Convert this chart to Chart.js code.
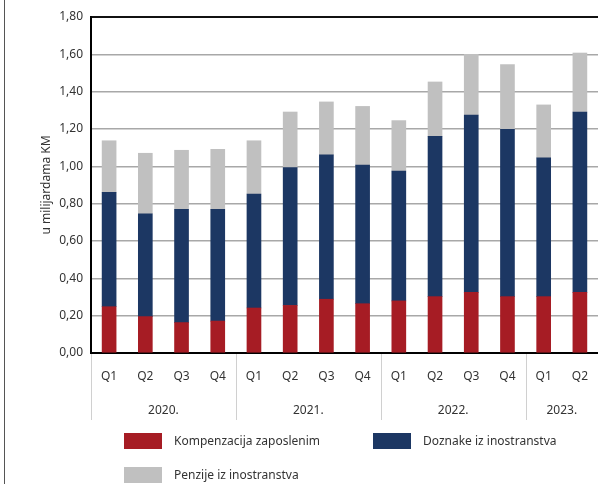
<!DOCTYPE html>
<html><head><meta charset="utf-8">
<script src="https://cdn.jsdelivr.net/npm/chart.js@4.4.1/dist/chart.umd.min.js"></script>
<style>
html,body{margin:0;padding:0;background:#fff;}
#wrap{position:relative;width:598px;height:484px;}
#frame{position:absolute;left:4px;top:0;width:1px;height:484px;background:#555;}
canvas{position:absolute;left:0;top:0;}
</style></head>
<body><div id="wrap"><div id="frame"></div><canvas id="c" width="598" height="484"></canvas></div>
<script>
const quarters = ['Q1','Q2','Q3','Q4','Q1','Q2','Q3','Q4','Q1','Q2','Q3','Q4','Q1','Q2'];
const years = ['2020.','2020.','2020.','2020.','2021.','2021.','2021.','2021.','2022.','2022.','2022.','2022.','2023.','2023.'];
const kompenzacija = [0.248,0.195,0.163,0.171,0.241,0.255,0.288,0.264,0.279,0.302,0.325,0.302,0.302,0.325];
const doznake = [0.613,0.551,0.607,0.599,0.611,0.738,0.773,0.743,0.696,0.859,0.950,0.896,0.743,0.966];
const penzije = [0.276,0.324,0.316,0.321,0.285,0.298,0.284,0.314,0.270,0.291,0.325,0.347,0.284,0.316];
const yTicks = [0,0.2,0.4,0.6,0.8,1.0,1.2,1.4,1.6,1.8];
const yTitle = 'u milijardama KM';
const FONT = '"Noto Sans", sans-serif';

const overlay = {
  id:'overlay',
  afterDraw(chart){
    const ctx = chart.ctx, xs = chart.scales.x, ca = chart.chartArea;
    ctx.save();
    const bounds = [ca.left];
    for(let i=1;i<years.length;i++){
      if(years[i]!==years[i-1]) bounds.push((xs.getPixelForValue(i-1)+xs.getPixelForValue(i))/2);
    }
    bounds.push(ca.right);
    const groups = years.filter((y,i)=>i===0||y!==years[i-1]);
    ctx.strokeStyle='#d0d0d0'; ctx.lineWidth=1;
    bounds.forEach(b=>{ctx.beginPath();ctx.moveTo(Math.round(b)+0.5,ca.bottom+1);ctx.lineTo(Math.round(b)+0.5,420);ctx.stroke();});
    ctx.fillStyle='#333'; ctx.font='12px '+FONT; ctx.textAlign='center'; ctx.textBaseline='middle';
    groups.forEach((g,i)=>ctx.fillText(g,(bounds[i]+bounds[i+1])/2,411));
    ctx.save(); ctx.translate(47,(ca.top+ca.bottom)/2); ctx.rotate(-Math.PI/2);
    ctx.fillText(yTitle,0,0); ctx.restore();
    const pos = [[124,433],[373,433],[124,467]];
    chart.data.datasets.forEach((ds,i)=>{
      const [x,y]=pos[i];
      ctx.fillStyle=ds.backgroundColor; ctx.fillRect(x,y,38,16);
      ctx.fillStyle='#333'; ctx.textAlign='left'; ctx.textBaseline='middle';
      ctx.fillText(ds.label,x+50,y+9);
    });
    ctx.restore();
  }
};

new Chart(document.getElementById('c'),{
  type:'bar',
  data:{labels:quarters,datasets:[
    {label:'Kompenzacija zaposlenim',data:kompenzacija,backgroundColor:'#a61c24'},
    {label:'Doznake iz inostranstva',data:doznake,backgroundColor:'#1c3763'},
    {label:'Penzije iz inostranstva',data:penzije,backgroundColor:'#c0c0c0'}
  ]},
  options:{
    responsive:false,animation:false,
    layout:{padding:{top:17,right:-2,left:0,bottom:0}},
    datasets:{bar:{barThickness:14}},
    plugins:{legend:{display:false},tooltip:{enabled:false}},
    scales:{
      x:{stacked:true,
        grid:{display:false,drawTicks:true,tickLength:16},
        border:{color:'#000',width:2},
        ticks:{color:'#333',font:{family:FONT,size:12},padding:0,maxRotation:0},
        afterFit(s){s.height=131;}
      },
      y:{stacked:true,min:0,max:1.8,
        afterBuildTicks(s){s.ticks=yTicks.map(v=>({value:v}));},
        grid:{drawTicks:false,color:c=>c.tick&&c.tick.value>=1.79?'#111':'#a8a8a8',lineWidth:c=>c.tick&&c.tick.value>=1.79?2:1.5},
        border:{color:'#000',width:2},
        ticks:{color:'#333',font:{family:FONT,size:12},padding:8,callback:v=>v.toFixed(2).replace('.',',')},
        afterFit(s){s.width=91;}
      }
    }
  },
  plugins:[overlay]
});
</script></body></html>
